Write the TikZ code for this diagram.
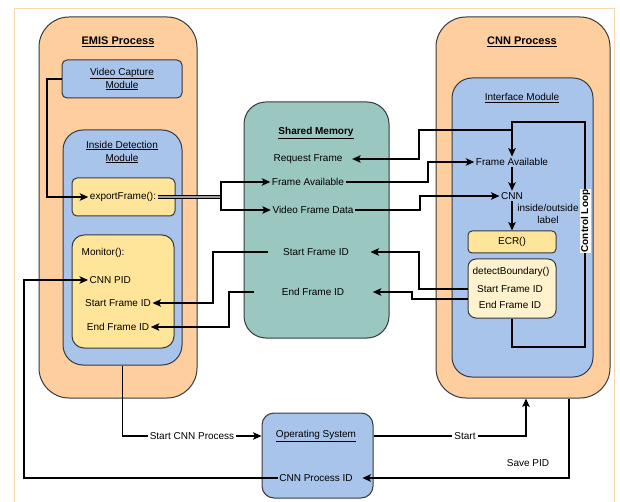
\documentclass[tikz,border=0pt]{standalone}
\usepackage{fontspec}
\setmainfont{Liberation Sans}
\usetikzlibrary{arrows.meta,calc}
\definecolor{orfill}{HTML}{FFCE9F}
\definecolor{blfill}{HTML}{A9C4EB}
\definecolor{tlfill}{HTML}{9AC7BF}
\definecolor{ylfill}{HTML}{FFE599}
\definecolor{lyfill}{HTML}{FFF2CC}
\definecolor{bord}{HTML}{36393D}
\definecolor{framecol}{HTML}{F8D8B0}
\begin{document}
\begin{tikzpicture}[x=1pt,y=-1pt,
  bx/.style={draw=bord, line width=1pt},
  obox/.style={bx, fill=orfill, rounded corners=30pt},
  bbox/.style={bx, fill=blfill},
  txt/.style={font=\fontsize{10}{13}\selectfont, inner sep=1.5pt, align=center},
  ttl/.style={font=\bfseries\fontsize{11}{13}\selectfont, inner sep=1.5pt},
  lblw/.style={txt, fill=white, inner sep=2pt},
  ln/.style={line width=1.25pt},
  arr/.style={ln, -{Stealth[length=8.5pt,width=7.5pt,inset=2pt]}},
  dbl/.style={line width=0.9pt, double=gray!75, double distance=1.6pt}
]
\useasboundingbox (0,0) rectangle (620,502);
\fill[white] (0,0) rectangle (620,502);
\draw[framecol, line width=0.8pt] (14,8) rectangle (614,520);

% ---------- boxes ----------
\node[obox, minimum width=158pt, minimum height=381pt] (emis) at (118,207.5) {};
\node[bbox, rounded corners=5pt, minimum width=120pt, minimum height=38pt] (vcm) at (122,79) {};
\node[bbox, rounded corners=20pt, minimum width=119pt, minimum height=235pt] (idm) at (122.5,247.5) {};
\node[bx, fill=ylfill, rounded corners=5pt, minimum width=103pt, minimum height=38pt] (expbox) at (123.5,197) {};
\node[bx, fill=ylfill, rounded corners=12pt, minimum width=102pt, minimum height=113pt] (mon) at (123,291.5) {};

\node[bx, fill=tlfill, rounded corners=22pt, minimum width=145pt, minimum height=236pt] (sm) at (316.5,220) {};

\node[obox, minimum width=174pt, minimum height=381pt] (cnn) at (523,207.5) {};
\node[bbox, rounded corners=20pt, minimum width=141pt, minimum height=299pt] (ifm) at (522.5,227.5) {};
\node[bx, fill=ylfill, rounded corners=4pt, minimum width=88pt, minimum height=22pt] (ecr) at (512,242) {};
\node[bx, fill=lyfill, rounded corners=8pt, minimum width=88pt, minimum height=59pt] (db) at (512,288.5) {};

\node[bbox, rounded corners=12pt, minimum width=111pt, minimum height=85pt] (os) at (317.5,455.5) {};

% ---------- texts ----------
\node[ttl] (emist) at (118,42) {\underline{EMIS Process}};
\node[txt] (vcmt) at (122,79) {\underline{Video Capture}\\\underline{Module}};
\node[txt] (idmt) at (122,152) {\underline{Inside Detection}\\\underline{Module}};
\node[txt] (expf) at (123,197) {exportFrame():};
\node[txt, anchor=west] (mont) at (80,253) {Monitor():};
\node[txt, anchor=west] (moncnn) at (88,280) {CNN PID};
\node[txt] (monsf) at (118,303) {Start Frame ID};
\node[txt] (monef) at (118,327) {End Frame ID};

\node[ttl, font=\bfseries\fontsize{10}{13}\selectfont] (smt) at (316,133) {\underline{Shared Memory}};
\node[txt] (smrf) at (308,159) {Request Frame};
\node[txt] (smfa) at (308,182) {Frame Available};
\node[txt] (smvfd) at (313,210) {Video Frame Data};
\node[txt] (smsf) at (316,252) {Start Frame ID};
\node[txt] (smef) at (313,292) {End Frame ID};

\node[ttl] (cnnt) at (522,42) {\underline{CNN Process}};
\node[txt] (ifmt) at (522,98) {\underline{Interface Module}};
\node[txt] (ifa) at (512,162) {Frame Available};
\node[txt] (icnn) at (512,196) {CNN};
\node[txt, font=\fontsize{10}{12.5}\selectfont] (iol) at (548,214) {inside/outside\\label};
\node[txt] (ecrt) at (512,242) {ECR()};
\node[txt] (dbt) at (511,272) {detectBoundary()};
\node[txt] (dbsf) at (510,289) {Start Frame ID};
\node[txt] (dbef) at (510,305) {End Frame ID};

\node[txt] (ost) at (316,436) {\underline{Operating System}};
\node[txt] (ospid) at (316,478) {CNN Process ID};
\node[txt] (savepid) at (528,463) {Save PID};

% ---------- connectors ----------
% Video Capture -> exportFrame
\draw[arr] (vcm.west) -| (47,197) -- (expf.west);
% exportFrame -> Shared Memory
\draw[dbl] (expf.east) -- (221,197);
\draw[arr] (221,197) |- (smfa.west);
\draw[arr] (221,197) |- (smvfd.west);
% Shared Memory -> Monitor
\draw[arr] ($(smsf.west)+(-14,0)$) -- (213,252) |- (monsf.east);
\draw[arr] ($(smef.west)+(-26,0)$) -- (229,292) |- (monef.east);

% Control loop
\draw[arr] (db.south) |- (585,347) |- (512,122) -- (ifa.north);
% Request Frame
\draw[arr] (512,130) -- (419,130) |- ($(smrf.east)+(8,0)$);
% Frame Available
\draw[arr] (smfa.east) -- (428,182) |- (ifa.west);
% Video Frame Data
\draw[arr] (smvfd.east) -- (420,210) |- (icnn.west);
% interface flow
\draw[arr] (ifa.south) -- (icnn.north);
\draw[arr] (icnn.south) -- (ecr.north);
% detectBoundary -> Shared Memory
\draw[arr] (db.west |- dbsf) -- (419,289) |- ($(smsf.east)+(20,0)$);
\draw[arr] (468,299) -- (412,299) |- ($(smef.east)+(27,0)$);

\node[font=\bfseries\fontsize{10}{12}\selectfont, fill=white, inner sep=1pt, rotate=90] (cloop) at (585.5,221) {Control Loop};

% bottom
\draw[arr] (idm.south) |- (os.west |- ost) node[lblw, pos=0.75] (scp) {Start CNN Process};
\draw[arr] (os.east |- ost) -| ($(cnn.south)+(3,0)$) node[lblw, pos=0.3] (st) {Start};
\draw[arr] ($(cnn.south)+(46,0)$) |- ($(ospid.east)+(8,0)$);
\draw[arr] (ospid.west) -- (24,478) |- (moncnn.west);
\end{tikzpicture}
\end{document}
